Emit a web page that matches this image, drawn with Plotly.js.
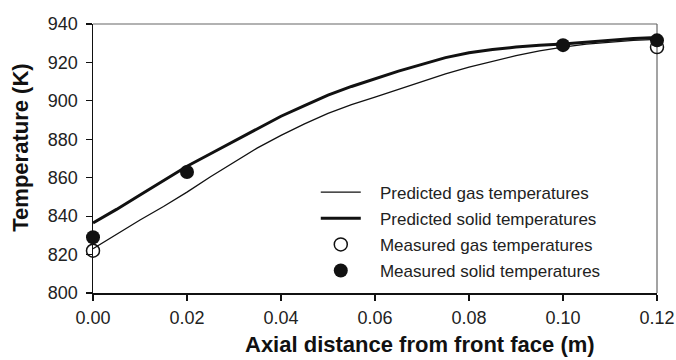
<!DOCTYPE html>
<html>
<head>
<meta charset="utf-8">
<script src="https://cdn.plot.ly/plotly-3.0.1.min.js"></script>
<style>
  html, body { margin: 0; padding: 0; background: #fff; }
  #chart { width: 676px; height: 360px; }
</style>
</head>
<body>
<div id="chart"></div>
<script>
// Axial position along the monolith (m) for the predicted profiles
const predX = [0.00, 0.005, 0.01, 0.015, 0.02, 0.025, 0.03, 0.035, 0.04, 0.045, 0.05, 0.055, 0.06,
               0.065, 0.07, 0.075, 0.08, 0.085, 0.09, 0.095, 0.10, 0.105, 0.11, 0.115, 0.12];
// Predicted gas temperature (K)
const predGas = [823, 830.5, 838, 845, 852.5, 860.5, 868, 875.5, 882, 888, 893.5, 898, 902,
                 906, 910, 914, 917.5, 920.5, 923.5, 926, 928, 929.5, 930.5, 931.5, 932];
// Predicted solid temperature (K)
const predSolid = [836.5, 843.5, 851, 858.5, 866, 872.5, 879, 885.5, 892, 897.5, 903, 907.5, 911.5,
                   915.5, 919, 922.5, 925, 926.7, 928, 929, 929.6, 930.5, 931.5, 932.5, 933];

// Thermocouple measurements
const measGasX = [0.00, 0.12];
const measGas = [822, 928];
const measSolidX = [0.00, 0.02, 0.10, 0.12];
const measSolid = [829, 863, 929, 931.5];

const xTicks = [0.00, 0.02, 0.04, 0.06, 0.08, 0.10, 0.12];
const xTickText = ['0.00', '0.02', '0.04', '0.06', '0.08', '0.10', '0.12'];
const yTicks = [800, 820, 840, 860, 880, 900, 920, 940];

const seriesNames = ['Predicted gas temperatures', 'Predicted solid temperatures',
                     'Measured gas temperatures', 'Measured solid temperatures'];

const FONT = '"Liberation Sans", Arial, sans-serif';
const INK = '#111';
// wider gap between legend symbol and label
const GAP = '\u00a0\u00a0\u00a0';

const traces = [
  { x: predX, y: predGas, mode: 'lines', name: GAP + seriesNames[0],
    line: { color: INK, width: 1.3 }, legendgroup: 'a' },
  { x: predX, y: predSolid, mode: 'lines', name: GAP + seriesNames[1],
    line: { color: INK, width: 3 }, legendgroup: 'b' },
  { x: measGasX, y: measGas, mode: 'markers', name: GAP + seriesNames[2],
    marker: { symbol: 'circle-open', size: 13, color: INK, line: { width: 1.5, color: INK } },
    cliponaxis: false, legendgroup: 'c' },
  { x: measSolidX, y: measSolid, mode: 'markers', name: GAP + seriesNames[3],
    marker: { symbol: 'circle', size: 14, color: INK },
    cliponaxis: false, legendgroup: 'd' }
];

const layout = {
  width: 676, height: 360,
  margin: { l: 93, r: 19, t: 24, b: 67 },
  paper_bgcolor: '#fff', plot_bgcolor: '#fff',
  font: { family: FONT, color: '#222', size: 17 },
  showlegend: true,
  legend: {
    x: 0.395, y: 0.44, xanchor: 'left', yanchor: 'top',
    bgcolor: 'rgba(0,0,0,0)', font: { size: 17, family: FONT, color: '#222' },
    tracegroupgap: 1, itemwidth: 40
  },
  xaxis: {
    range: [0, 0.12], tickvals: xTicks, ticktext: xTickText,
    showgrid: false, zeroline: false,
    showline: true, linecolor: INK, linewidth: 1.5,
    ticks: 'outside', ticklen: 6, tickcolor: INK, tickwidth: 1.2,
    tickfont: { size: 18 }, ticklabelstandoff: 2
  },
  yaxis: {
    range: [800, 940], tickvals: yTicks,
    showgrid: false, zeroline: false,
    showline: true, linecolor: INK, linewidth: 1.5,
    ticks: 'outside', ticklen: 6, tickcolor: INK, tickwidth: 1.2,
    tickfont: { size: 18 }, ticklabelstandoff: 4
  },
  shapes: [
    // light frame on the top and right of the plotting area
    { type: 'line', xref: 'paper', yref: 'paper', x0: 0, x1: 1, y0: 1, y1: 1,
      line: { color: '#666', width: 1.2 }, layer: 'below' },
    { type: 'line', xref: 'paper', yref: 'paper', x0: 1, x1: 1, y0: 0, y1: 1,
      line: { color: '#666', width: 1.2 }, layer: 'below' }
  ],
  annotations: [
    { text: '<b>Axial distance from front face (m)</b>', xref: 'paper', yref: 'paper',
      x: 0.58, y: -0.19, xanchor: 'center', yanchor: 'middle', showarrow: false,
      font: { size: 22, family: FONT, color: '#111' } },
    { text: '<b>Temperature (K)</b>', xref: 'paper', yref: 'paper',
      x: -0.13, y: 0.539, xanchor: 'center', yanchor: 'middle', showarrow: false,
      textangle: -90, font: { size: 22, family: FONT, color: '#111' } }
  ]
};

Plotly.newPlot('chart', traces, layout, { staticPlot: true, displayModeBar: false });
</script>
</body>
</html>
